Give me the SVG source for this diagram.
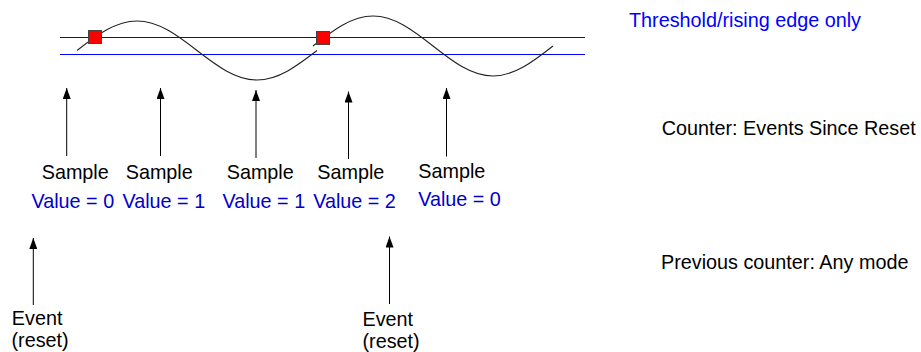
<svg xmlns="http://www.w3.org/2000/svg" width="921" height="352" viewBox="0 0 921 352">
<style>
text{font-family:"Liberation Sans",Arial,sans-serif;font-size:19.8px;fill:#000}
.val{fill:#0000cc}
.thr{fill:#0000ff}
.blue{stroke:#0000ff;stroke-width:1;fill:none}
.wave{stroke:#222;stroke-width:1.1;fill:none}
.sq{fill:#ff0000;stroke:#444;stroke-width:1}
.arr{stroke:#000;stroke-width:1;fill:none;marker-end:url(#ah)}
</style>
<defs>
<marker id="ah" markerUnits="userSpaceOnUse" viewBox="0 0 11 8" refX="11" refY="4" markerWidth="11" markerHeight="8" orient="auto">
<path d="M0,0 L11,4 L0,8 z" fill="#000"/>
</marker>
</defs>
<rect width="921" height="352" fill="#fff"/>
<g id="signal">
<line class="blue" x1="60" y1="37.5" x2="585" y2="37.5"/>
<line class="blue" x1="60" y1="54.5" x2="585" y2="54.5"/>
<path class="wave" d="M77,50.5 C96.6,35.4 115.5,21 137,21 S177.4,35.4 197,50.5 S235.5,80 257,80 S297.4,65.6 317,50.5"/>
<path class="wave" d="M313,46 C332.6,30.6 351.5,16 373,16 S413.4,30.6 433,46 S471.5,76 493,76 S533.4,61.4 553,46"/>
<rect id="edge1" class="sq" x="88.5" y="30.5" width="13" height="13"/>
<rect id="edge2" class="sq" x="316.5" y="31.5" width="13" height="13"/>
</g>
<g id="connectors">
<line class="arr" x1="66.7" y1="156" x2="66.7" y2="88"/>
<line class="arr" x1="160.5" y1="156" x2="160.5" y2="88"/>
<line class="arr" x1="256" y1="158" x2="256" y2="90"/>
<line class="arr" x1="348.5" y1="159" x2="348.5" y2="91.5"/>
<line class="arr" x1="446.5" y1="156.5" x2="446.5" y2="88"/>
<line class="arr" x1="33.3" y1="305" x2="33.3" y2="238"/>
<line class="arr" x1="389.5" y1="304" x2="389.5" y2="236.5"/>
</g>
<g id="sample1"><text x="41.7" y="179">Sample</text><text class="val" x="31.5" y="208">Value = 0</text></g>
<g id="sample2"><text x="125.7" y="179">Sample</text><text class="val" x="122.5" y="208">Value = 1</text></g>
<g id="sample3"><text x="226.7" y="179">Sample</text><text class="val" x="222.5" y="208">Value = 1</text></g>
<g id="sample4"><text x="317.3" y="179">Sample</text><text class="val" x="313.2" y="208">Value = 2</text></g>
<g id="sample5"><text x="418.3" y="178">Sample</text><text class="val" x="418.2" y="206">Value = 0</text></g>
<g id="event1"><text x="11.8" y="325">Event</text><text x="11.5" y="347">(reset)</text></g>
<g id="event2"><text x="362.5" y="326">Event</text><text x="362.5" y="347.8">(reset)</text></g>
<g id="legend">
<text class="thr" x="629" y="27">Threshold/rising edge only</text>
<text x="661.7" y="135">Counter: Events Since Reset</text>
<text x="661" y="269">Previous counter: Any mode</text>
</g>
</svg>
